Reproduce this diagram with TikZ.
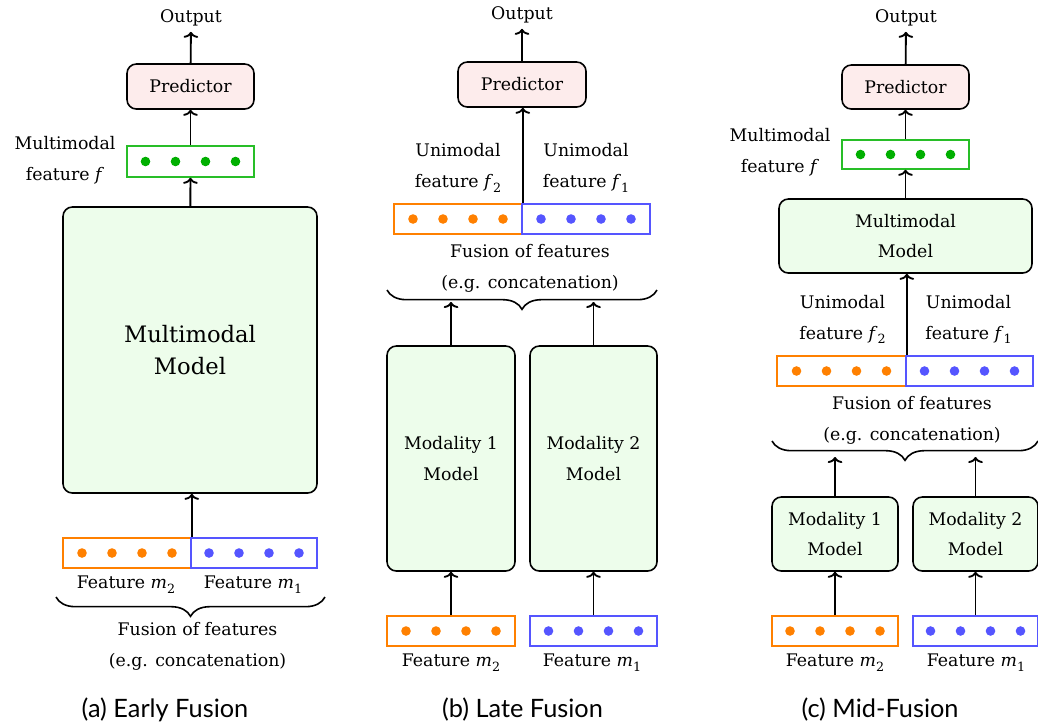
\documentclass[tikz,border=0pt]{standalone}
\usepackage{fontspec}
\setmainfont{DejaVu Serif}
\newfontfamily\capfont{Lato}
\usetikzlibrary{arrows.meta,decorations.pathreplacing,calc}
\definecolor{oc}{RGB}{255,128,0}
\definecolor{bc}{RGB}{85,85,255}
\definecolor{gc}{RGB}{0,175,0}
\definecolor{gb}{RGB}{40,190,40}
\definecolor{mfill}{RGB}{237,253,235}
\definecolor{pfill}{RGB}{253,236,236}
\newcommand\txt{\fontsize{13}{23}\selectfont}
\newcommand\bigtxt{\fontsize{17}{23.5}\selectfont}
\newcommand\vr[2]{\textit{#1}\raisebox{-0.28em}{\fontsize{9.5}{10}\selectfont #2}}
\newcommand\featdots[2]{\foreach \d in {-45,-15,15,45} \fill[#2] ([xshift=\d*0.75pt]#1.center) circle[radius=3.6pt];}
\tikzset{
 sz/.style 2 args={minimum width=#1*0.75pt, minimum height=#2*0.75pt, inner sep=0pt},
 model/.style={draw, line width=1.2pt, rounded corners=7pt, fill=mfill, align=center, font=\txt},
 pred/.style={draw, line width=1.2pt, rounded corners=7pt, fill=pfill, font=\txt},
 feat/.style={draw=#1, line width=1.2pt},
 lbl/.style={font=\txt, align=center, inner sep=0pt},
 outl/.style={font=\txt, inner sep=4pt},
 captxt/.style={font=\capfont\fontsize{19}{22}\selectfont, inner sep=0pt},
 arr/.style={line width=1.4pt, -{To[length=4.5pt,width=11pt]}},
 brc/.style={decorate, decoration={brace, amplitude=14.5pt, mirror}, line width=1.2pt},
}
\begin{document}
\begin{tikzpicture}[x=0.75pt,y=-0.75pt]
\useasboundingbox (0,0) rectangle (1038,726);
% ---------- (a) Early fusion
\node[outl] (outa) at (191,18) {Output};
\node[pred, sz={127}{45}] (pa) at (190.5,86.5) {Predictor};
\node[feat=gb, sz={127}{31}] (fa) at (190.5,161.5) {};
\featdots{fa}{gc}
\node[lbl] (la) at (65,160) {Multimodal\\feature \textit{f}};
\node[model, sz={254}{286}, font=\bigtxt] (ma) at (190,350) {Multimodal\\Model};
\node[feat=oc, sz={128}{30}] (a2) at (127,553) {};
\node[feat=bc, sz={126}{30}] (a1) at (254,553) {};
\featdots{a2}{oc}
\featdots{a1}{bc}
\node[lbl] (la2) at (126,585) {Feature \vr{m}{2}};
\node[lbl] (la1) at (253,585) {Feature \vr{m}{1}};
\coordinate (bra1) at (56,597);
\coordinate (bra2) at (325,597);
\draw[brc] (bra1) -- (bra2);
\node[lbl] (fua) at (197.5,646.5) {Fusion of features\\(e.g. concatenation)};
\node[captxt] (capa) at (165,710) {(a) Early Fusion};
\draw[arr] (pa) -- (outa);
\draw[arr] (fa) -- (pa);
\draw[arr] (ma) -- (fa);
\draw[arr] (a2.north east) -- (ma.south -| a2.north east);
% ---------- (b) Late fusion
\node[outl] (outb) at (522,15) {Output};
\node[pred, sz={128}{45}] (pb) at (522,84.5) {Predictor};
\node[feat=oc, sz={128}{30}] (b2) at (458,219) {};
\node[feat=bc, sz={128}{30}] (b1) at (586,219) {};
\featdots{b2}{oc}
\featdots{b1}{bc}
\node[lbl] (lb2) at (458,168) {Unimodal\\feature \vr{f}{2}};
\node[lbl] (lb1) at (586,168) {Unimodal\\feature \vr{f}{1}};
\node[lbl] (fub) at (530,268) {Fusion of features\\(e.g. concatenation)};
\coordinate (brb1) at (387,290);
\coordinate (brb2) at (657,290);
\draw[brc] (brb1) -- (brb2);
\node[model, sz={128}{225}] (mb1) at (451,458.5) {Modality 1\\Model};
\node[model, sz={127}{225}] (mb2) at (593.5,458.5) {Modality 2\\Model};
\coordinate (tb1) at (451,302);
\coordinate (tb2) at (593.5,302);
\node[feat=oc, sz={128}{30}] (bm2) at (451,631) {};
\node[feat=bc, sz={127}{30}] (bm1) at (593.5,631) {};
\featdots{bm2}{oc}
\featdots{bm1}{bc}
\node[lbl] (lbm2) at (451,663) {Feature \vr{m}{2}};
\node[lbl] (lbm1) at (592,663) {Feature \vr{m}{1}};
\node[captxt] (capb) at (522.5,710) {(b) Late Fusion};
\draw[arr] (pb) -- (outb);
\draw[arr] (b2.north east) -- (pb.south -| b2.north east);
\draw[arr] (mb1) -- (tb1);
\draw[arr] (mb2) -- (tb2);
\draw[arr] (bm2) -- (mb1);
\draw[arr] (bm1) -- (mb2);
% ---------- (c) Mid fusion
\node[outl] (outc) at (906,18) {Output};
\node[pred, sz={127}{44}] (pc) at (905.5,87) {Predictor};
\node[feat=gb, sz={127}{29}] (fc) at (905.5,154.5) {};
\featdots{fc}{gc}
\node[lbl] (lc) at (780,152.5) {Multimodal\\feature \textit{f}};
\node[model, sz={253}{74}] (mmc) at (905.5,236) {Multimodal\\Model};
\node[feat=oc, sz={129}{30}] (c2) at (841.5,371) {};
\node[feat=bc, sz={127}{30}] (c1) at (969.5,371) {};
\featdots{c2}{oc}
\featdots{c1}{bc}
\node[lbl] (lc2) at (842.5,319.5) {Unimodal\\feature \vr{f}{2}};
\node[lbl] (lc1) at (968.5,319.5) {Unimodal\\feature \vr{f}{1}};
\node[lbl] (fuc) at (912,420) {Fusion of features\\(e.g. concatenation)};
\coordinate (brc1) at (772,441);
\coordinate (brc2) at (1038,441);
\draw[brc] (brc1) -- (brc2);
\node[model, sz={126}{74}] (mc1) at (835,534) {Modality 1\\Model};
\node[model, sz={125}{74}] (mc2) at (975.5,534) {Modality 2\\Model};
\coordinate (tc1) at (835,457);
\coordinate (tc2) at (975.5,457);
\node[feat=oc, sz={126}{30}] (cm2) at (835,631) {};
\node[feat=bc, sz={125}{30}] (cm1) at (975.5,631) {};
\featdots{cm2}{oc}
\featdots{cm1}{bc}
\node[lbl] (lcm2) at (835,663) {Feature \vr{m}{2}};
\node[lbl] (lcm1) at (976,663) {Feature \vr{m}{1}};
\node[captxt] (capc) at (880,710) {(c) Mid-Fusion};
\draw[arr] (pc) -- (outc);
\draw[arr] (fc) -- (pc);
\draw[arr] (mmc) -- (fc);
\draw[arr] (c2.north east) -- (mmc.south -| c2.north east);
\draw[arr] (mc1) -- (tc1);
\draw[arr] (mc2) -- (tc2);
\draw[arr] (cm2) -- (mc1);
\draw[arr] (cm1) -- (mc2);
\end{tikzpicture}
\end{document}
